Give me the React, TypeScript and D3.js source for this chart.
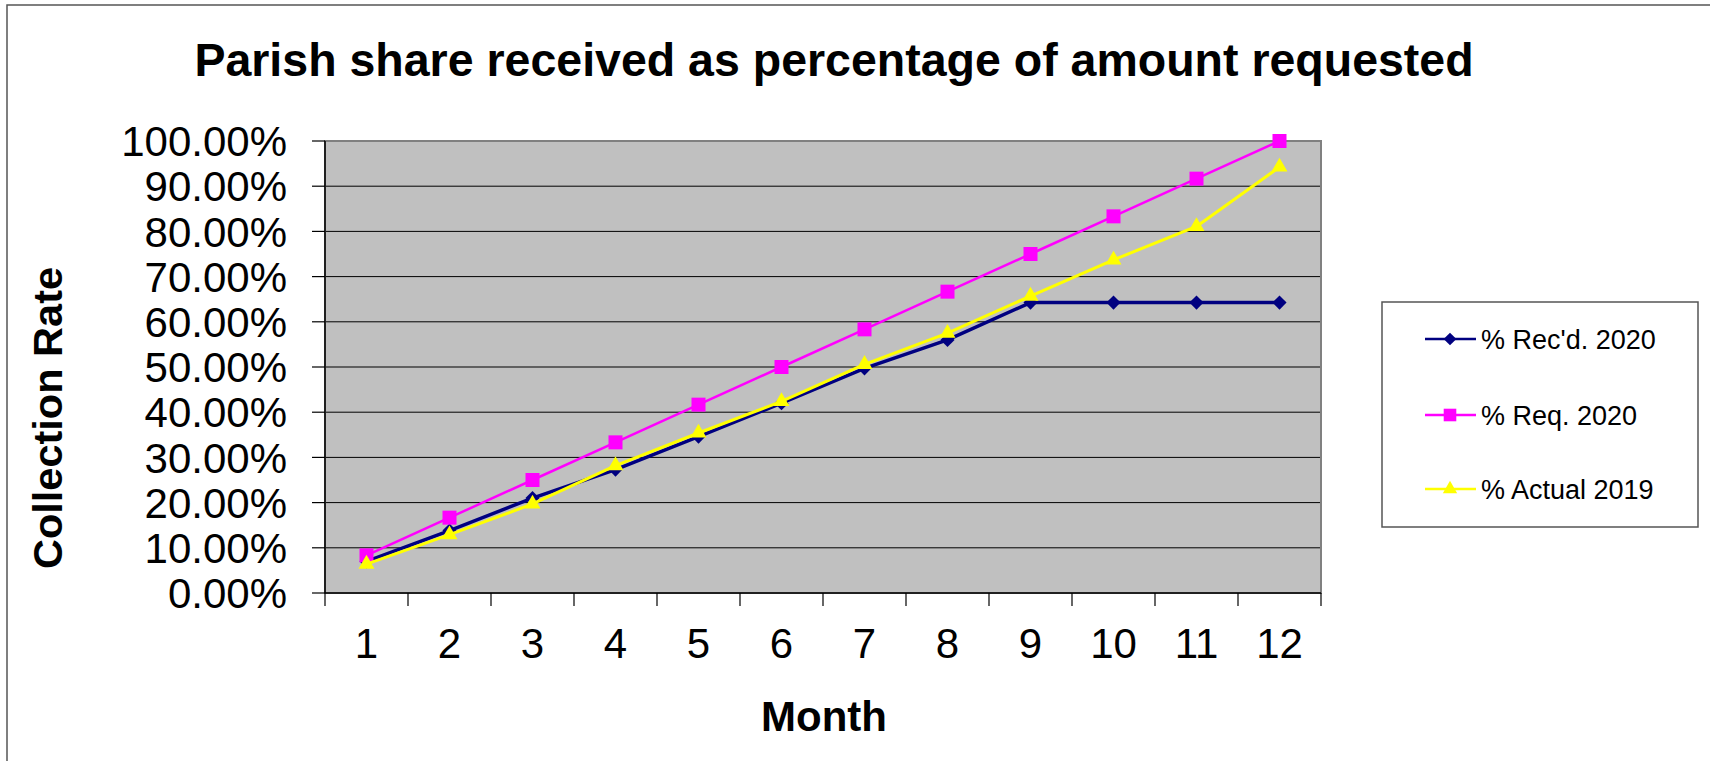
import React from 'react';
import * as d3 from 'd3';

// months on the x axis
const months = ['1', '2', '3', '4', '5', '6', '7', '8', '9', '10', '11', '12'];

// series values (percent)
const recd2020 = [7.0, 13.8, 21.0, 27.3, 34.6, 42.0, 49.7, 56.0, 64.25, 64.25, 64.25, 64.25];
const req2020 = [8.33, 16.67, 25, 33.33, 41.67, 50, 58.33, 66.67, 75, 83.33, 91.67, 100];
const actual2019 = [6.4, 12.9, 19.7, 28.2, 35.4, 42.4, 50.6, 57.5, 65.7, 73.7, 81.1, 94.25];

const yTicks = [0, 10, 20, 30, 40, 50, 60, 70, 80, 90, 100];

const seriesNames = ["% Rec'd. 2020", '% Req. 2020', '% Actual 2019'];

const FONT = '"Liberation Sans", Arial, sans-serif';

const W = 1710;
const H = 761;

// plot area
const plot = { left: 325, right: 1321, top: 141, bottom: 593 };

const App = () => {
  const xScale = d3.scaleBand<string>()
    .domain(months)
    .range([plot.left, plot.right])
    .paddingInner(0)
    .paddingOuter(0);

  const yScale = d3.scaleLinear()
    .domain([0, 100])
    .range([plot.bottom, plot.top]);

  const cx = (m: string) => (xScale(m) ?? 0) + xScale.bandwidth() / 2;

  const line = d3.line<number>()
    .x((_, i) => cx(months[i]))
    .y(d => yScale(d));

  const diamond = d3.symbol().type(d3.symbolSquare).size(100)();
  const square = d3.symbol().type(d3.symbolSquare).size(196)();
  const triangle = d3.symbol().type(d3.symbolTriangle).size(110)();

  // series definitions, drawn in this order
  const series = [
    { name: seriesNames[0], values: recd2020, color: '#000080', width: 3.5, marker: diamond, rotate: 45 },
    { name: seriesNames[1], values: req2020, color: '#FF00FF', width: 2.5, marker: square, rotate: 0 },
    { name: seriesNames[2], values: actual2019, color: '#FFFF00', width: 3, marker: triangle, rotate: 0 },
  ];

  const bandEdges = months.map(m => xScale(m) ?? 0).concat([plot.right]);

  const legend = { x: 1382, y: 302, w: 316, h: 225 };
  const legendRows = [339, 415, 489];

  return (
    <svg
      width={W}
      height={H}
      style={{ position: 'absolute', left: 0, top: 0, background: '#fff' }}
      fontFamily={FONT}
    >
      {/* chart area border */}
      <rect x={7} y={5} width={W + 50} height={H + 50} fill="#fff" stroke="#555" strokeWidth={1.5} />

      {/* title */}
      <text x={834} y={76} textAnchor="middle" fontSize={46.5} fontWeight="bold" fill="#000">
        Parish share received as percentage of amount requested
      </text>

      {/* plot background */}
      <rect x={plot.left} y={plot.top} width={plot.right - plot.left} height={plot.bottom - plot.top} fill="#C0C0C0" />

      {/* gridlines */}
      {yTicks.map(t => (
        <line key={`g${t}`} x1={plot.left} x2={plot.right} y1={yScale(t)} y2={yScale(t)} stroke="#000" strokeWidth={1} />
      ))}

      {/* plot border */}
      <rect x={plot.left} y={plot.top} width={plot.right - plot.left} height={plot.bottom - plot.top}
        fill="none" stroke="#808080" strokeWidth={2} />

      {/* y axis */}
      <line x1={plot.left} x2={plot.left} y1={plot.top} y2={plot.bottom} stroke="#000" strokeWidth={1.5} />
      {yTicks.map(t => (
        <g key={`y${t}`}>
          <line x1={plot.left - 13} x2={plot.left} y1={yScale(t)} y2={yScale(t)} stroke="#000" strokeWidth={1.2} />
          <text x={287} y={yScale(t)} dy="0.36em" textAnchor="end" fontSize={42} fill="#000">
            {d3.format('.2f')(t)}%
          </text>
        </g>
      ))}

      {/* x axis */}
      <line x1={plot.left} x2={plot.right} y1={plot.bottom} y2={plot.bottom} stroke="#000" strokeWidth={1.5} />
      {bandEdges.map((e, i) => (
        <line key={`xt${i}`} x1={e} x2={e} y1={plot.bottom} y2={plot.bottom + 13} stroke="#000" strokeWidth={1.2} />
      ))}
      {months.map(m => (
        <text key={`xl${m}`} x={cx(m)} y={658} textAnchor="middle" fontSize={42} fill="#000">{m}</text>
      ))}

      {/* axis titles */}
      <text x={824} y={731} textAnchor="middle" fontSize={42} fontWeight="bold" fill="#000">Month</text>
      <text transform="translate(62,418) rotate(-90)" textAnchor="middle" fontSize={41.5} fontWeight="bold" fill="#000">
        Collection Rate
      </text>

      {/* series */}
      {series.map(s => (
        <g key={s.name}>
          <path d={line(s.values) ?? ''} fill="none" stroke={s.color} strokeWidth={s.width} strokeLinejoin="round" />
          {s.values.map((v, i) => (
            <path key={i} d={s.marker ?? ''} fill={s.color}
              transform={`translate(${cx(months[i])},${yScale(v)}) rotate(${s.rotate})`} />
          ))}
        </g>
      ))}

      {/* legend */}
      <rect x={legend.x} y={legend.y} width={legend.w} height={legend.h} fill="#fff" stroke="#555" strokeWidth={1.5} />
      {series.map((s, i) => (
        <g key={`lg${i}`} transform={`translate(0,${legendRows[i]})`}>
          <line x1={1425} x2={1476} y1={0} y2={0} stroke={s.color} strokeWidth={2.5} />
          <path d={s.marker ?? ''} fill={s.color} transform={`translate(1450,0) rotate(${s.rotate}) scale(0.9)`} />
          <text x={1481} y={0} dy="0.36em" fontSize={27} fill="#000">{s.name}</text>
        </g>
      ))}
    </svg>
  );
};

export default App;
